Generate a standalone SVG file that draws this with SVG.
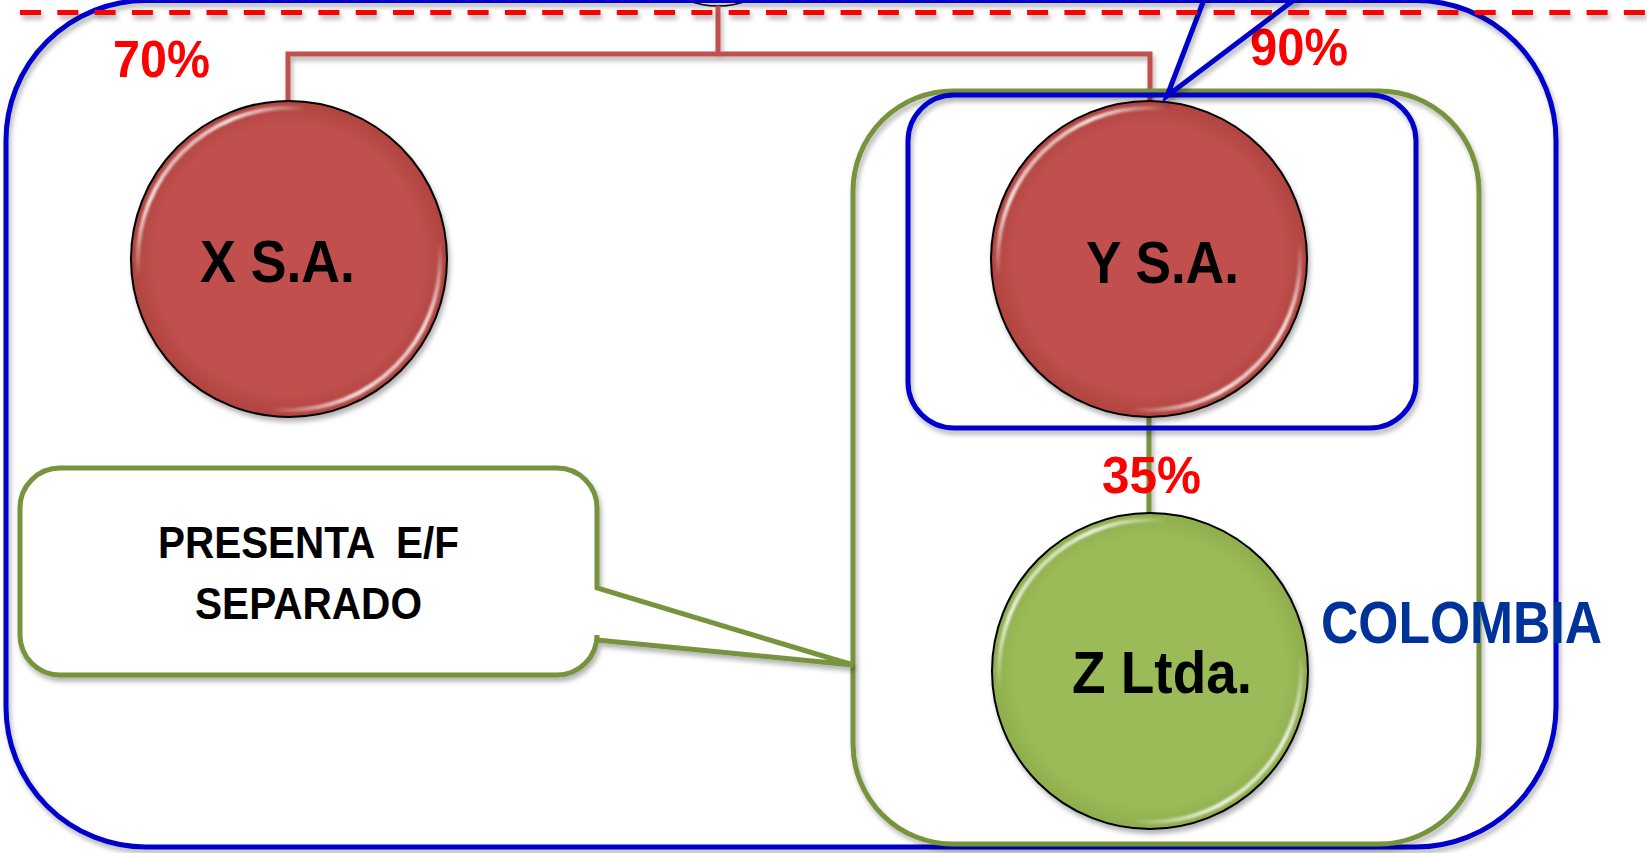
<svg xmlns="http://www.w3.org/2000/svg" width="1647" height="853" viewBox="0 0 1647 853">
<defs>
<style>
.lbl{font-family:"Liberation Sans",Arial,sans-serif;font-weight:bold;}
.pct{fill:#FF0000;font-size:52px;}
.node-t{fill:#000;font-size:60px;text-anchor:middle;}
.blue{fill:none;stroke:#0000CC;stroke-width:5;}
.green{fill:none;stroke:#77933C;stroke-width:5;}
.rim{fill:none;stroke:url(#gloss);stroke-width:4;}
</style>
<filter id="sh" filterUnits="userSpaceOnUse" x="-50" y="-50" width="1750" height="960">
<feDropShadow dx="2" dy="4" stdDeviation="2.5" flood-color="#000" flood-opacity="0.3"/>
</filter>
<filter id="blur1" x="-10%" y="-10%" width="120%" height="120%"><feGaussianBlur stdDeviation="1.2"/></filter>
<linearGradient id="gloss" x1="0" y1="0" x2="1" y2="1">
<stop offset="0.08" stop-color="#fff" stop-opacity="0"/>
<stop offset="0.17" stop-color="#fff" stop-opacity="0.85"/>
<stop offset="0.28" stop-color="#fff" stop-opacity="0"/>
<stop offset="0.72" stop-color="#fff" stop-opacity="0"/>
<stop offset="0.84" stop-color="#fff" stop-opacity="0.85"/>
<stop offset="0.92" stop-color="#fff" stop-opacity="0"/>
</linearGradient>
<radialGradient id="redF" cx="0.5" cy="0.5" r="0.5">
<stop offset="0.85" stop-color="#C0504D"/>
<stop offset="1" stop-color="#B0433F"/>
</radialGradient>
<radialGradient id="greenF" cx="0.5" cy="0.5" r="0.5">
<stop offset="0.85" stop-color="#9BBB59"/>
<stop offset="1" stop-color="#8EAD4C"/>
</radialGradient>
</defs>
<rect width="1647" height="853" fill="#fff"/>

<g id="top-node">
<circle cx="718" cy="-80" r="86" fill="#fff" stroke="#000" stroke-width="1.5"/>
</g>

<g id="colombia" filter="url(#sh)">
<rect class="blue" x="6" y="0.5" width="1550" height="846.5" rx="140" ry="140"/>
</g>

<g id="connectors" filter="url(#sh)">
<path d="M718,6 V54 M288,101 V54 H1150 V101" fill="none" stroke="#C0504D" stroke-width="5"/>
<path d="M1149,417 V513" fill="none" stroke="#77933C" stroke-width="5"/>
</g>

<g id="group-yz" filter="url(#sh)">
<rect class="green" x="853" y="91" width="626" height="753" rx="100" ry="100"/>
</g>

<g id="group-y" filter="url(#sh)">
<rect class="blue" x="908" y="95" width="508" height="333" rx="46" ry="46"/>
</g>

<g id="node-x">
<circle cx="289" cy="259" r="158" fill="url(#redF)" stroke="#000" stroke-width="2" filter="url(#sh)"/>
<circle class="rim" cx="289" cy="259" r="151" filter="url(#blur1)"/>
<text class="lbl node-t" x="277.5" y="282" textLength="155" lengthAdjust="spacingAndGlyphs">X S.A.</text>
</g>

<g id="node-y">
<circle cx="1149" cy="259" r="158" fill="url(#redF)" stroke="#000" stroke-width="2" filter="url(#sh)"/>
<circle class="rim" cx="1149" cy="259" r="151" filter="url(#blur1)"/>
<text class="lbl node-t" x="1162.5" y="283" textLength="153" lengthAdjust="spacingAndGlyphs">Y S.A.</text>
</g>

<g id="node-z">
<circle cx="1150" cy="671" r="158" fill="url(#greenF)" stroke="#000" stroke-width="2" filter="url(#sh)"/>
<circle class="rim" cx="1150" cy="671" r="151" filter="url(#blur1)"/>
<text class="lbl node-t" x="1162" y="693" textLength="180" lengthAdjust="spacingAndGlyphs">Z Ltda.</text>
</g>

<g id="labels">
<text class="lbl pct" x="113" y="77" textLength="97" lengthAdjust="spacingAndGlyphs">70%</text>
<text class="lbl pct" x="1250" y="65" textLength="98" lengthAdjust="spacingAndGlyphs">90%</text>
<text class="lbl pct" x="1102" y="493" textLength="99" lengthAdjust="spacingAndGlyphs">35%</text>
<text class="lbl" x="1321" y="643" font-size="59" fill="#003399" textLength="281" lengthAdjust="spacingAndGlyphs">COLOMBIA</text>
</g>

<g id="callout">
<path class="green" fill="#fff" style="fill:#fff" filter="url(#sh)" d="M60,468 H557 A40 40 0 0 1 597 508 V588 L853 665 L597 640 V635 A40 40 0 0 1 557 675 H60 A40 40 0 0 1 20 635 V508 A40 40 0 0 1 60 468 Z"/>
<text class="lbl" x="308.5" y="558" font-size="44" text-anchor="middle" xml:space="preserve" textLength="301" lengthAdjust="spacingAndGlyphs">PRESENTA  E/F</text>
<text class="lbl" x="308.5" y="619" font-size="44" text-anchor="middle" textLength="227" lengthAdjust="spacingAndGlyphs">SEPARADO</text>
</g>

<g id="callout-90" filter="url(#sh)">
<polyline class="blue" points="1205,-3 1167,96 1298,-3"/>
</g>

<g id="border-line" filter="url(#sh)">
<line x1="20" y1="12.5" x2="1647" y2="12.5" stroke="#FF0000" stroke-width="5" stroke-dasharray="21 16.3"/>
</g>
</svg>
